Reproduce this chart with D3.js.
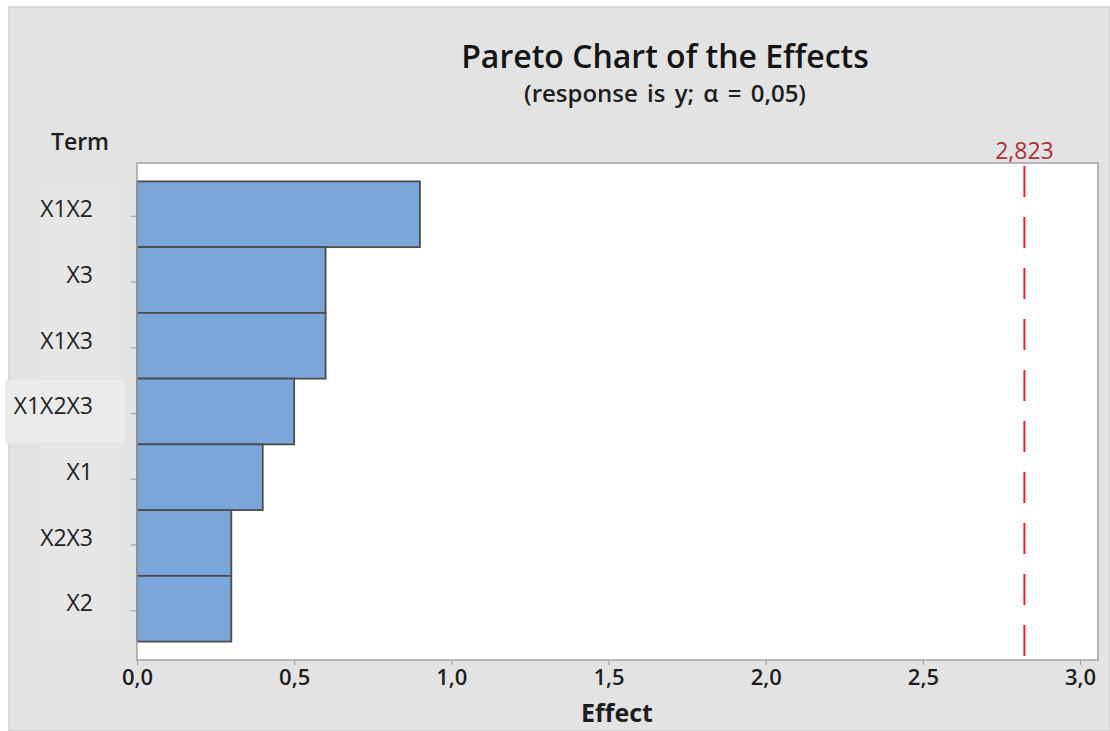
<!DOCTYPE html>
<html>
<head>
<meta charset="utf-8">
<script src="https://cdn.jsdelivr.net/npm/d3@7"></script>
<style>
  html, body { margin: 0; padding: 0; background: #ffffff; }
  svg { display: block; }
  text { font-family: "Open Sans", "Noto Sans", sans-serif; }
</style>
</head>
<body>
<svg id="chart" width="1110" height="731"></svg>
<script>
// Terms ordered by absolute standardized effect (largest first)
const terms = ["X1X2", "X3", "X1X3", "X1X2X3", "X1", "X2X3", "X2"];
const effects = [0.9, 0.6, 0.6, 0.5, 0.4, 0.3, 0.3];
const criticalValue = 2.823;
const criticalLabel = "2,823";
const xTicks = [0, 0.5, 1.0, 1.5, 2.0, 2.5, 3.0];

const titleText = "Pareto Chart of the Effects";
const subtitleText = "(response is y; \u03b1 = 0,05)";
const yTitle = "Term";
const xTitle = "Effect";

const svg = d3.select("#chart");
const W = 1110, H = 731;
const plot = { left: 137, right: 1098, top: 163, bottom: 660 };

// Grey outer panel
svg.append("rect").attr("x", 9).attr("y", 7).attr("width", W - 9).attr("height", H - 7)
  .attr("fill", "#e3e3e3").attr("stroke", "#cfcfcf").attr("stroke-width", 1.5);

const x = d3.scaleLinear().domain([0, 3.057]).range([plot.left, plot.right]);
const y = d3.scaleBand().domain(terms).range([plot.top, plot.bottom])
  .paddingInner(0).paddingOuter(0.28);

const commaFmt = d3.formatLocale({ decimal: ",", thousands: ".", grouping: [3], currency: ["", ""] }).format(".1f");

// Lighter label patches behind the term names
svg.append("g").selectAll("rect").data(terms).join("rect")
  .attr("x", d => d === "X1X2X3" ? 5 : 40)
  .attr("width", d => d === "X1X2X3" ? 120 : 80)
  .attr("y", d => y(d) + 1)
  .attr("height", y.bandwidth() - 2)
  .attr("fill", d => d === "X1X2X3" ? "#ebebeb" : "#e6e6e6");

// Plot area
svg.append("rect").attr("x", plot.left).attr("y", plot.top)
  .attr("width", plot.right - plot.left).attr("height", plot.bottom - plot.top)
  .attr("fill", "#ffffff");

// Bars
svg.append("g").selectAll("rect").data(terms).join("rect")
  .attr("x", x(0))
  .attr("y", d => y(d))
  .attr("width", (d, i) => x(effects[i]) - x(0))
  .attr("height", y.bandwidth())
  .attr("fill", "#7ba6d9")
  .attr("stroke", "#4d4d4d")
  .attr("stroke-width", 1.8);

// Reference line for the critical effect
svg.append("line")
  .attr("x1", x(criticalValue)).attr("x2", x(criticalValue))
  .attr("y1", plot.top + 3).attr("y2", plot.bottom - 4)
  .attr("stroke", "#e0242c").attr("stroke-width", 2)
  .attr("stroke-dasharray", "31,20");

svg.append("text")
  .attr("x", x(criticalValue)).attr("y", 159)
  .attr("text-anchor", "middle")
  .attr("font-size", 23)
  .attr("fill", "#a8323a")
  .text(criticalLabel);

// Plot frame
svg.append("rect").attr("x", plot.left).attr("y", plot.top)
  .attr("width", plot.right - plot.left).attr("height", plot.bottom - plot.top)
  .attr("fill", "none").attr("stroke", "#a3a3a3").attr("stroke-width", 1.5);

// X axis
const xAxis = svg.append("g").attr("transform", `translate(0,${plot.bottom})`)
  .call(d3.axisBottom(x).tickValues(xTicks).tickSize(5).tickPadding(4).tickFormat(commaFmt));
xAxis.select(".domain").remove();
xAxis.selectAll("line").attr("stroke", "#a3a3a3").attr("stroke-width", 1.2);
xAxis.selectAll("text").attr("font-size", 22).attr("font-weight", 600)
  .attr("fill", "#1e1e1e").style("font-family", "\"Open Sans\", sans-serif");

// Y axis
const yAxis = svg.append("g").attr("transform", `translate(${plot.left},0)`)
  .call(d3.axisLeft(y).tickSize(6).tickPadding(38));
yAxis.select(".domain").remove();
yAxis.selectAll("line").attr("stroke", "#a3a3a3").attr("stroke-width", 1.2)
  .attr("transform", "translate(0,2)");
yAxis.selectAll("text").attr("font-size", 23).attr("font-weight", 400)
  .attr("fill", "#222").style("font-family", "\"Open Sans\", sans-serif")
  .attr("dy", "0.12em");

// Titles
svg.append("text").attr("x", 665).attr("y", 68).attr("text-anchor", "middle")
  .attr("font-size", 32).attr("font-weight", 600).attr("fill", "#141414")
  .text(titleText);
svg.append("text").attr("x", 665).attr("y", 102).attr("text-anchor", "middle")
  .attr("font-size", 24).attr("font-weight", 600).attr("fill", "#1e1e1e")
  .attr("word-spacing", 3)
  .text(subtitleText);
svg.append("text").attr("x", 80).attr("y", 150).attr("text-anchor", "middle")
  .attr("font-size", 23).attr("font-weight", 600).attr("fill", "#1e1e1e")
  .text(yTitle);
svg.append("text").attr("x", 617).attr("y", 722).attr("text-anchor", "middle")
  .attr("font-size", 25).attr("font-weight", 700).attr("fill", "#1e1e1e")
  .text(xTitle);
</script>
</body>
</html>
